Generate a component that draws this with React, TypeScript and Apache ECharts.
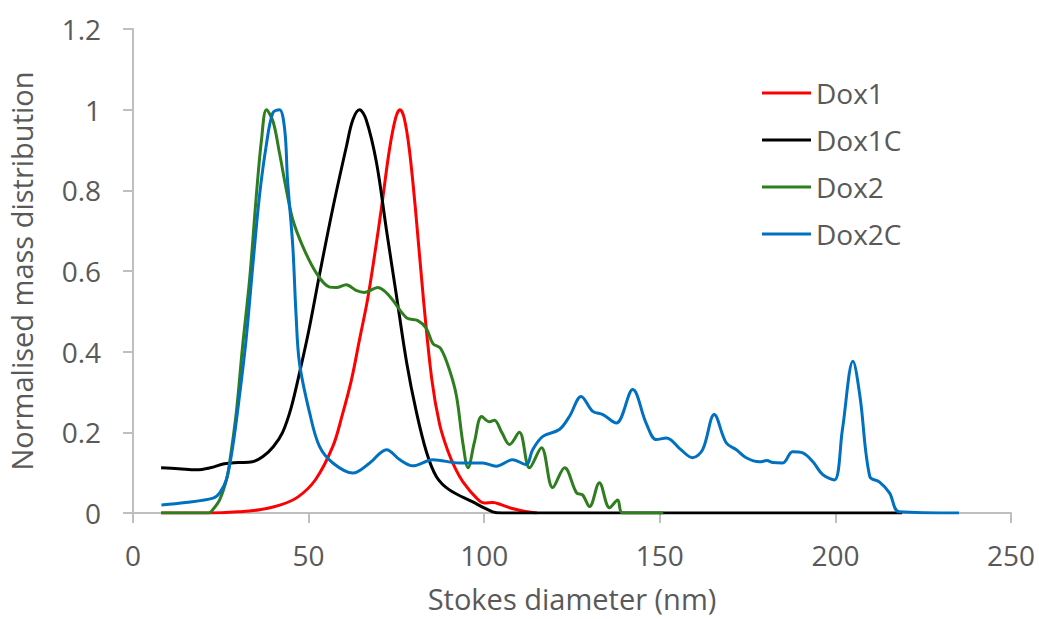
import React, { useEffect, useRef } from "react";
import * as echarts from "echarts";

const seriesNames = ["Dox1", "Dox1C", "Dox2", "Dox2C"];
const seriesColors = ["#FF0000", "#000000", "#2E7D1E", "#0070C0"];

const xTicks = { min: 0, max: 250, interval: 50 };
const yTicks = { min: 0, max: 1.2, interval: 0.2 };

const dox1: [number, number][] = [
  [8, 0], [22, 0], [30, 0.003], [36, 0.008], [42, 0.02], [47, 0.04], [52, 0.083],
  [56.9, 0.165], [59.5, 0.24], [62.2, 0.33], [64.5, 0.43], [66.8, 0.53], [68.8, 0.64],
  [70.8, 0.76], [73, 0.9], [74.8, 0.98], [76, 1.0], [77.2, 0.98], [78.7, 0.9],
  [80.5, 0.746], [82.7, 0.53], [85.1, 0.33], [87.3, 0.22], [89.6, 0.155], [91.8, 0.11],
  [93.9, 0.078], [97.7, 0.038], [100, 0.025], [102.5, 0.026], [105, 0.02], [108, 0.011],
  [111, 0.005], [115, 0],
];

const dox1C: [number, number][] = [
  [8, 0.112], [13, 0.11], [18, 0.107], [22, 0.112], [26, 0.122], [30, 0.125], [34, 0.127],
  [37, 0.14], [40, 0.165], [42.6, 0.2], [45, 0.26], [47.4, 0.347], [50, 0.45],
  [53.2, 0.595], [57, 0.76], [60.8, 0.91], [62.6, 0.975], [64.5, 1.0], [66.4, 0.975],
  [69.3, 0.87], [72.2, 0.7], [75, 0.54], [77.9, 0.374], [80.7, 0.25], [83.6, 0.15],
  [86.4, 0.09], [90, 0.058], [96.6, 0.028], [102.4, 0.003], [105, 0], [219, 0],
];

const dox2: [number, number][] = [
  [8, 0], [21.5, 0], [22.7, 0.008], [24.7, 0.033], [26.6, 0.082], [27.5, 0.124],
  [29.4, 0.248], [31.2, 0.413], [33.2, 0.579], [35.1, 0.785], [36.6, 0.926], [38, 1.0],
  [39.9, 0.97], [41.7, 0.893], [43.7, 0.8], [45.5, 0.727], [48.4, 0.66], [52.2, 0.595],
  [56, 0.56], [57.9, 0.559], [60.7, 0.566], [63.5, 0.552], [65.9, 0.547], [69.7, 0.559],
  [73.1, 0.537], [77.9, 0.484], [81.1, 0.477], [83.5, 0.458], [85.4, 0.42], [87.6, 0.408],
  [90.1, 0.355], [92.1, 0.29], [93.9, 0.175], [95.4, 0.112], [97.2, 0.175], [99.3, 0.239],
  [101.5, 0.226], [102.9, 0.23], [105, 0.2], [107.2, 0.17], [110, 0.2], [112.9, 0.112],
  [116.3, 0.162], [119.5, 0.063], [122.9, 0.112], [126.3, 0.05], [128, 0.045],
  [130, 0.016], [132.8, 0.075], [135.7, 0.013], [138, 0.032], [139.4, 0], [151, 0],
];

const dox2C: [number, number][] = [
  [8.1, 0.02], [15, 0.026], [22.8, 0.037], [24.7, 0.05], [26.6, 0.083], [28.4, 0.165],
  [30.3, 0.289], [32.2, 0.43], [34.1, 0.612], [36, 0.785], [37.9, 0.909], [39.8, 0.992],
  [41.7, 1.0], [43.2, 0.95], [44, 0.826], [45.5, 0.661], [46.4, 0.496], [47.4, 0.372],
  [50.3, 0.248], [53.1, 0.165], [56.9, 0.124], [62.6, 0.099], [67.4, 0.124],
  [72.2, 0.157], [76, 0.132], [79.7, 0.117], [85.4, 0.132], [93, 0.124], [99.6, 0.124],
  [103.4, 0.116], [108.1, 0.132], [111.9, 0.12], [113.8, 0.157], [116.7, 0.19],
  [121.4, 0.207], [124.3, 0.24], [127.6, 0.289], [130.9, 0.252], [133.8, 0.244],
  [137.6, 0.223], [142.3, 0.306], [146.1, 0.223], [149, 0.182], [151.9, 0.186],
  [156, 0.157], [159.3, 0.137], [162.2, 0.157], [165.5, 0.244], [168.9, 0.174],
  [171.8, 0.157], [174.6, 0.137], [178.4, 0.127], [180.5, 0.13], [182.2, 0.125],
  [185, 0.124], [187.8, 0.152], [190.7, 0.149], [193.6, 0.127], [196.4, 0.095],
  [199.7, 0.082], [202, 0.207], [205, 0.376], [207, 0.289], [209.8, 0.09],
  [212.5, 0.077], [215.4, 0.05], [218.2, 0.003], [235.2, 0],
];

const allSeries = [dox1, dox1C, dox2, dox2C];

const FONT = "Open Sans";
const TEXT_COLOR = "#595959";
const AXIS_COLOR = "#BFBFBF";

export default function App() {
  const ref = useRef<HTMLDivElement>(null);
  useEffect(() => {
    if (!ref.current) return;
    const chart = echarts.init(ref.current, undefined, { renderer: "svg" });
    chart.setOption({
      animation: false,
      backgroundColor: "#FFFFFF",
      textStyle: { fontFamily: FONT },
      grid: {
        left: 133,
        right: 28,
        top: 29,
        bottom: 106,
        containLabel: false,
        outerBoundsMode: "none",
      },
      legend: {
        orient: "vertical",
        left: 762,
        top: 78,
        padding: 0,
        icon: "rect",
        itemWidth: 49,
        itemHeight: 3,
        itemGap: 17,
        data: seriesNames,
        textStyle: { fontFamily: FONT, fontSize: 28, color: TEXT_COLOR, lineHeight: 30 },
      },
      xAxis: {
        type: "value",
        min: xTicks.min,
        max: xTicks.max,
        interval: xTicks.interval,
        name: "Stokes diameter (nm)",
        nameLocation: "middle",
        nameGap: 72,
        nameTextStyle: { fontFamily: FONT, fontSize: 29, lineHeight: 26, color: TEXT_COLOR },
        axisLine: { show: true, lineStyle: { color: AXIS_COLOR, width: 2 } },
        axisTick: { show: true, length: 10, lineStyle: { color: AXIS_COLOR, width: 2 } },
        axisLabel: { fontFamily: FONT, fontSize: 28, color: TEXT_COLOR, margin: 28 },
        splitLine: { show: false },
      },
      yAxis: {
        type: "value",
        min: yTicks.min,
        max: yTicks.max,
        interval: yTicks.interval,
        name: "Normalised mass distribution",
        nameLocation: "middle",
        nameGap: 97,
        nameTextStyle: { fontFamily: FONT, fontSize: 29, color: TEXT_COLOR },
        axisLine: { show: true, lineStyle: { color: AXIS_COLOR, width: 2 } },
        axisTick: { show: true, length: 10, lineStyle: { color: AXIS_COLOR, width: 2 } },
        axisLabel: { fontFamily: FONT, fontSize: 28, color: TEXT_COLOR, margin: 32 },
        splitLine: { show: false },
      },
      series: allSeries.map((d, i) => ({
        name: seriesNames[i],
        type: "line",
        data: d,
        smooth: 0.35,
        showSymbol: false,
        symbol: "none",
        lineStyle: { color: seriesColors[i], width: 3 },
        itemStyle: { color: seriesColors[i] },
        z: 2 + i,
      })),
    });
    return () => chart.dispose();
  }, []);
  return <div ref={ref} style={{ width: 1039, height: 619, position: "absolute", left: 0, top: 0 }} />;
}
